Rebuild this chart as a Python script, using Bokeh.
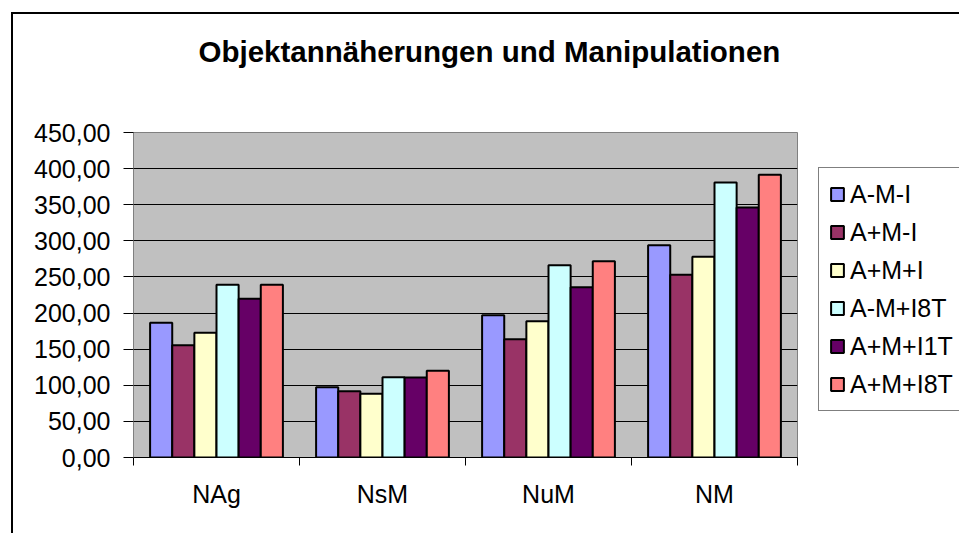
from bokeh.plotting import figure
from bokeh.models import (Range1d, FixedTicker, Legend, LegendItem, ColumnDataSource,
                          Title, InlineStyleSheet)
from bokeh.transform import dodge
from bokeh.embed import file_html
from bokeh.resources import INLINE

# ---------------- data ----------------
categories = ["NAg", "NsM", "NuM", "NM"]
series_names = ["A-M-I", "A+M-I", "A+M+I", "A-M+I8T", "A+M+I1T", "A+M+I8T"]
a_m_i = [186.5, 97.4, 197.0, 294.0]
ap_m_i = [155.5, 91.8, 163.8, 253.0]
ap_mp_i = [172.6, 88.2, 188.8, 277.8]
a_mp_i8t = [239.1, 111.2, 266.3, 380.8]
ap_mp_i1t = [219.7, 110.8, 235.8, 346.3]
ap_mp_i8t = [239.1, 120.0, 271.9, 391.4]
series_values = [a_m_i, ap_m_i, ap_mp_i, a_mp_i8t, ap_mp_i1t, ap_mp_i8t]
colors = ["#9999FF", "#993366", "#FFFFCC", "#CCFFFF", "#660066", "#FF8080"]
y_ticks = [0, 50, 100, 150, 200, 250, 300, 350, 400, 450]
y_tick_labels = ["0,00", "50,00", "100,00", "150,00", "200,00", "250,00",
                 "300,00", "350,00", "400,00", "450,00"]
title_text = "Objektannäherungen und Manipulationen"

FONT = "Liberation Sans"

p = figure(frame_width=664, frame_height=325, output_backend="svg",
           toolbar_location=None,
           x_range=Range1d(0, len(categories)), y_range=Range1d(0, 450),
           min_border_left=133, min_border_right=162, min_border_top=132,
           min_border_bottom=76, background_fill_color="#C0C0C0",
           border_fill_color="white")

p.title = Title(text=title_text, align="left", vertical_align="top", text_font=FONT,
                text_font_size="29.5px", text_font_style="bold", text_color="black",
                standoff=0, offset=65,
                padding=dict(top=0, bottom=63, left=0, right=0))

centers = [i + 0.5 for i in range(len(categories))]
n = len(series_names)
gap = 1.5
w = 1.0 / (n + gap)

items = []
for i, (name, vals, col) in enumerate(zip(series_names, series_values, colors)):
    src = ColumnDataSource(dict(x=centers, top=vals, cat=categories))
    r = p.vbar(x=dodge("x", (i - (n - 1) / 2) * w, range=p.x_range), top="top",
               bottom=0, width=w, source=src, fill_color=col, line_color="black",
               line_width=2)
    items.append(LegendItem(label=name, renderers=[r]))

# x axis
xa = p.xaxis[0]
xa.ticker = FixedTicker(ticks=centers, minor_ticks=list(range(len(categories) + 1)))
xa.major_label_overrides = {c: lab for c, lab in zip(centers, categories)}
xa.major_tick_line_color = None
xa.major_tick_in = 0
xa.major_tick_out = 0
xa.minor_tick_in = 0
xa.minor_tick_out = 8
xa.minor_tick_line_color = "black"
xa.axis_line_color = "black"
xa.major_label_text_font = FONT
xa.major_label_text_font_size = "25px"
xa.major_label_text_color = "black"
xa.major_label_standoff = 14

# y axis
ya = p.yaxis[0]
ya.ticker = FixedTicker(ticks=y_ticks, minor_ticks=[])
ya.major_label_overrides = {t: lab for t, lab in zip(y_ticks, y_tick_labels)}
ya.major_tick_in = 0
ya.major_tick_out = 10
ya.major_tick_line_color = "black"
ya.axis_line_color = "#808080"
ya.major_label_text_font = FONT
ya.major_label_text_font_size = "25px"
ya.major_label_text_color = "black"
ya.major_label_standoff = 13

p.xgrid.visible = False
p.ygrid.ticker = FixedTicker(ticks=y_ticks, minor_ticks=[])
p.ygrid.grid_line_color = "black"
p.ygrid.grid_line_width = 1
p.outline_line_color = "#808080"
p.outline_line_width = 1

legend = Legend(items=items, location=(21, 46), padding=10, spacing=6,
                label_height=32, glyph_height=16, glyph_width=16,
                label_standoff=5, margin=0, label_text_font=FONT,
                label_text_font_size="25px", label_text_color="black",
                border_line_color="black", border_line_width=1,
                background_fill_color="white", background_fill_alpha=1)
p.add_layout(legend, "right")

# chart-area border of the original (its right and bottom edges lie outside the picture)
p.stylesheets = [InlineStyleSheet(css="""
:host { position: relative; }
:host::after { content: ''; position: absolute; left: 11px; top: 12px; right: 0; bottom: 0;
  border-left: 2px solid #000; border-top: 2px solid #000; pointer-events: none; z-index: 10; }
""")]

open("out.html", "w").write(file_html(p, INLINE))
